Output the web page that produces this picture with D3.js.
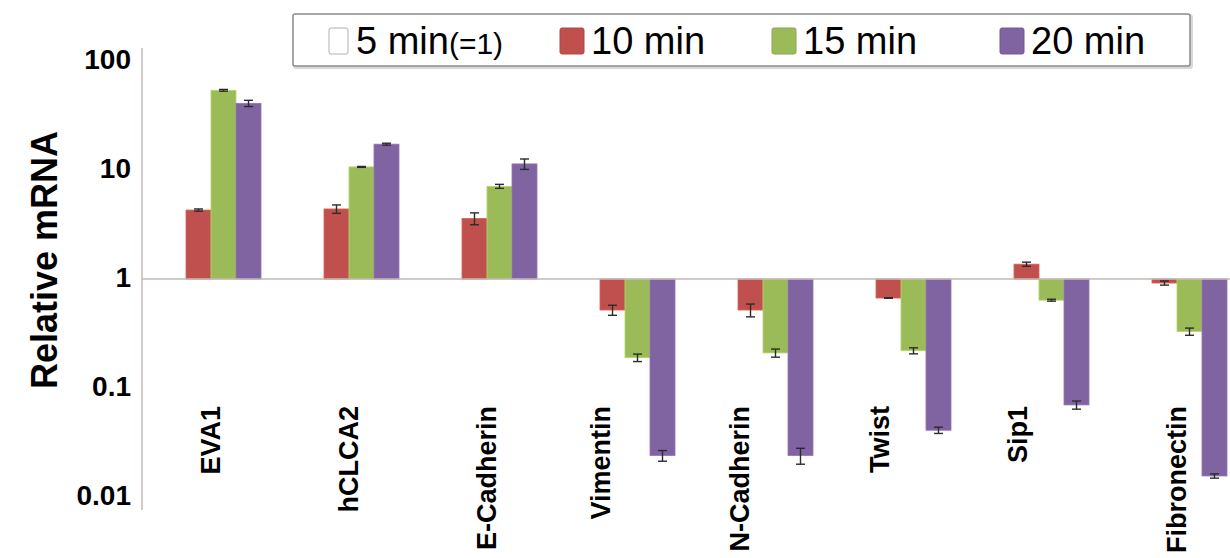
<!DOCTYPE html>
<meta charset="utf-8">
<script src="https://d3js.org/d3.v7.min.js"></script>
<style>
  body { margin: 0; background: #fff; }
  text { font-family: "Liberation Sans", Arial, sans-serif; }
</style>
<body>
<div id="chart"></div>
<script>
// data
var categories = ["EVA1", "hCLCA2", "E-Cadherin", "Vimentin", "N-Cadherin", "Twist", "Sip1", "Fibronectin"];
var seriesNames = ["5 min(=1)", "10 min", "15 min", "20 min"];
var min5  = [1, 1, 1, 1, 1, 1, 1, 1];
var min10 = [4.3, 4.4, 3.6, 0.52, 0.52, 0.67, 1.37, 0.92];
var min15 = [54, 10.7, 7.1, 0.19, 0.21, 0.22, 0.64, 0.33];
var min20 = [41, 17.3, 11.4, 0.024, 0.024, 0.041, 0.070, 0.0156];
var err5  = [0, 0, 0, 0, 0, 0, 0, 0];
var err10 = [0.1, 0.39, 0.45, 0.055, 0.07, 0.004, 0.06, 0.04];
var err15 = [1, 0.1, 0.3, 0.015, 0.018, 0.014, 0.013, 0.025];
var err20 = [2.7, 0.35, 1.25, 0.0027, 0.004, 0.0027, 0.006, 0.0007];
var yTicks = [100, 10, 1, 0.1, 0.01];
var yTickLabels = ["100", "10", "1", "0.1", "0.01"];

var colors = ["#ffffff", "#c0504d", "#9bbb59", "#8064a2"];
var values = [min5, min10, min15, min20];
var errors = [err5, err10, err15, err20];

var width = 1230, height = 558;

var svg = d3.select("#chart")
  .append("svg")
    .attr("width", width)
    .attr("height", height);

var x = d3.scaleBand()
  .domain(categories)
  .range([142, 1246])
  .paddingInner(38 / 138)
  .paddingOuter(19 / 138);

var xs = d3.scaleBand()
  .domain(seriesNames)
  .range([0, x.bandwidth()]);

var y = d3.scaleLog()
  .domain([0.0076, 132])
  .range([510, 48]);

// bars
seriesNames.forEach(function(s, i) {
  if (i === 0) return; // 5 min is the reference (=1), no height
  var rows = categories.map(function(c, j) {
    return { cat: c, v: values[i][j], e: errors[i][j] };
  });
  var g = svg.append("g");
  g.selectAll("rect")
    .data(rows)
    .enter().append("rect")
      .attr("x", function(d) { return x(d.cat) + xs(s); })
      .attr("width", xs.bandwidth())
      .attr("y", function(d) { return Math.min(y(d.v), y(1)); })
      .attr("height", function(d) { return Math.abs(y(d.v) - y(1)); })
      .attr("fill", colors[i])
      .attr("stroke", d3.color(colors[i]).brighter(0.4))
      .attr("stroke-width", 0.8);

  var eb = g.selectAll(".eb")
    .data(rows)
    .enter().append("g")
      .attr("stroke", "#2b2b2b")
      .attr("stroke-width", 1.4);
  eb.append("line")
    .attr("x1", function(d) { return x(d.cat) + xs(s) + xs.bandwidth() / 2; })
    .attr("x2", function(d) { return x(d.cat) + xs(s) + xs.bandwidth() / 2; })
    .attr("y1", function(d) { return y(d.v + d.e); })
    .attr("y2", function(d) { return y(d.v - d.e); });
  [1, -1].forEach(function(sign) {
    eb.append("line")
      .attr("x1", function(d) { return x(d.cat) + xs(s) + xs.bandwidth() / 2 - 4.5; })
      .attr("x2", function(d) { return x(d.cat) + xs(s) + xs.bandwidth() / 2 + 4.5; })
      .attr("y1", function(d) { return y(d.v + sign * d.e); })
      .attr("y2", function(d) { return y(d.v + sign * d.e); });
  });
});

// axis line and baseline at 1
svg.append("line")
  .attr("x1", 142).attr("x2", 142)
  .attr("y1", y.range()[0]).attr("y2", y.range()[1])
  .attr("stroke", "#c2b9b5").attr("stroke-width", 1.5);
svg.append("line")
  .attr("x1", 142).attr("x2", width)
  .attr("y1", y(1)).attr("y2", y(1))
  .attr("stroke", "#c2b9b5").attr("stroke-width", 1.5);

// y tick labels
svg.selectAll(".ytick")
  .data(yTicks)
  .enter().append("text")
    .attr("x", 131)
    .attr("y", function(d) { return y(d) - 2; })
    .attr("text-anchor", "end")
    .attr("dominant-baseline", "central")
    .style("font-size", "28px")
    .style("font-weight", "bold")
    .text(function(d, i) { return yTickLabels[i]; });

svg.append("text")
  .attr("transform", "translate(44,260) rotate(-90)")
  .attr("text-anchor", "middle")
  .attr("dominant-baseline", "central")
  .style("font-size", "36px")
  .style("font-weight", "bold")
  .text("Relative mRNA");

// category labels, some nudged left as in the original
var labelShift = [0, 0, 0, -24, -23, -21, -21, 0];
svg.selectAll(".xlab")
  .data(categories)
  .enter().append("text")
    .attr("transform", function(d, i) {
      return "translate(" + (x(d) + x.bandwidth() / 2 + labelShift[i]) + ",406) rotate(-90)";
    })
    .attr("text-anchor", "end")
    .attr("dominant-baseline", "central")
    .style("font-size", "27px")
    .style("font-weight", "bold")
    .text(function(d) { return d; });

// legend
var legend = svg.append("g");
legend.append("rect")
  .attr("x", 293).attr("y", 14)
  .attr("width", 897).attr("height", 52)
  .attr("rx", 2)
  .attr("fill", "none")
  .attr("stroke", "#d8d8d8").attr("stroke-width", 3)
  .attr("transform", "translate(1.5,1.5)");
legend.append("rect")
  .attr("x", 293).attr("y", 14)
  .attr("width", 897).attr("height", 52)
  .attr("rx", 2)
  .attr("fill", "#fff")
  .attr("stroke", "#8a8a8a").attr("stroke-width", 1.5);

var legendX = [329, 560, 772, 1000];
seriesNames.forEach(function(s, i) {
  var item = legend.append("g").attr("transform", "translate(" + legendX[i] + ",0)");
  item.append("rect")
    .attr("x", 0).attr("y", 28)
    .attr("width", i === 0 ? 19 : 24).attr("height", 26)
    .attr("rx", 2)
    .attr("fill", colors[i])
    .attr("stroke", i === 0 ? "#a9b3b3" : d3.color(colors[i]).darker(0.3))
    .attr("stroke-width", 1);
  var parts = s.split("(");
  var t = item.append("text")
    .attr("x", i === 0 ? 27 : 31).attr("y", 54)
    .style("font-size", "38px");
  t.append("tspan").text(parts[0]);
  if (parts.length > 1) {
    t.append("tspan").style("font-size", "30px").text("(" + parts[1]);
  }
});
</script>
</body>
